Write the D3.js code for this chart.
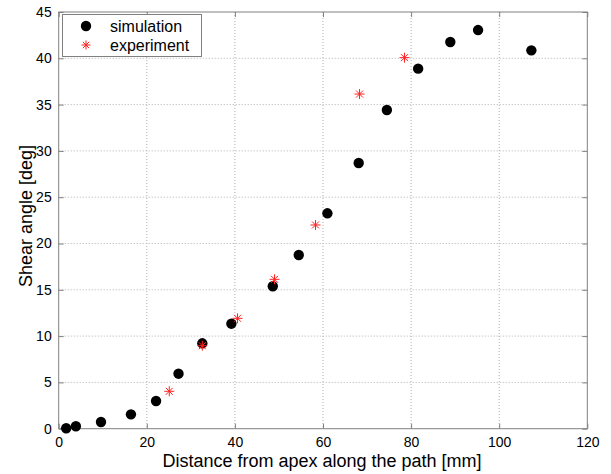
<!DOCTYPE html>
<html><head><meta charset="utf-8">
<script src="https://cdn.jsdelivr.net/npm/d3@7"></script>
<style>body{margin:0;background:#fff}svg{display:block}</style>
</head><body>
<script>
const simX = [1.7, 3.9, 9.6, 16.4, 22.1, 27.2, 32.6, 39.2, 48.6, 54.5, 61.0, 68.1, 74.5, 81.6, 88.9, 95.2, 107.3];
const simY = [0.05, 0.26, 0.72, 1.55, 2.99, 5.94, 9.22, 11.34, 15.38, 18.76, 23.26, 28.69, 34.42, 38.88, 41.76, 43.05, 40.86];
const expX = [25.1, 32.6, 40.6, 49.0, 58.3, 68.3, 78.5];
const expY = [4.04, 8.96, 11.92, 16.13, 22.0, 36.14, 40.07];
const xTicks = [0, 20, 40, 60, 80, 100, 120];
const yTicks = [0, 5, 10, 15, 20, 25, 30, 35, 40, 45];
const seriesNames = ["simulation", "experiment"];

const W = 611, H = 474;
const L = 58.7, R = 587.3, T = 12, B = 428.7;
const svg = d3.select("body").append("svg").attr("width", W).attr("height", H);
const x = d3.scaleLinear().domain([0, 120]).range([L, R]);
const y = d3.scaleLinear().domain([0, 45]).range([B, T]);
const font = "Liberation Sans, Arial, sans-serif";
const axisCol = "#808080";

// grid
const g = svg.append("g");
g.selectAll(".gx").data(xTicks.slice(1, -1)).join("line")
  .attr("x1", d => x(d)).attr("x2", d => x(d)).attr("y1", T).attr("y2", B)
  .attr("stroke", "#b0b0b0").attr("stroke-width", 1).attr("stroke-dasharray", "1,2");
g.selectAll(".gy").data(yTicks.slice(1, -1)).join("line")
  .attr("y1", d => y(d)).attr("y2", d => y(d)).attr("x1", L).attr("x2", R)
  .attr("stroke", "#b0b0b0").attr("stroke-width", 1).attr("stroke-dasharray", "1,2");

// box
svg.append("rect").attr("x", L).attr("y", T).attr("width", R - L).attr("height", B - T)
  .attr("fill", "none").attr("stroke", axisCol).attr("stroke-width", 1);

// axes
const xa = svg.append("g").attr("transform", `translate(0,${B})`)
  .call(d3.axisBottom(x).tickValues(xTicks).tickSizeInner(-5).tickSizeOuter(0).tickPadding(8));
const xt = svg.append("g").attr("transform", `translate(0,${T})`)
  .call(d3.axisTop(x).tickValues(xTicks).tickSizeInner(-5).tickSizeOuter(0).tickFormat(""));
const ya = svg.append("g").attr("transform", `translate(${L},0)`)
  .call(d3.axisLeft(y).tickValues(yTicks).tickSizeInner(-5).tickSizeOuter(0).tickPadding(7));
const yr = svg.append("g").attr("transform", `translate(${R},0)`)
  .call(d3.axisRight(y).tickValues(yTicks).tickSizeInner(-5).tickSizeOuter(0).tickFormat(""));
[xa, xt, ya, yr].forEach(a => {
  a.select(".domain").remove();
  a.selectAll(".tick line").attr("stroke", axisCol);
  a.selectAll("text").attr("font-family", font).attr("font-size", 14).attr("fill", "#000");
});

// axis labels
svg.append("text").attr("x", 322).attr("y", 467).attr("text-anchor", "middle")
  .attr("font-family", font).attr("font-size", 18).text("Distance from apex along the path [mm]");
svg.append("text").attr("transform", `translate(32,216) rotate(-90)`).attr("text-anchor", "middle")
  .attr("font-family", font).attr("font-size", 18).text("Shear angle [deg]");

// star marker
function star(sel, cx, cy, s) {
  const gg = sel.append("g").attr("transform", `translate(${cx},${cy})`).attr("stroke", "#ff2020").attr("stroke-width", 1);
  const d = s * 0.7;
  gg.append("line").attr("x1", -s).attr("x2", s).attr("y1", 0).attr("y2", 0);
  gg.append("line").attr("y1", -s).attr("y2", s).attr("x1", 0).attr("x2", 0);
  gg.append("line").attr("x1", -d).attr("x2", d).attr("y1", -d).attr("y2", d);
  gg.append("line").attr("x1", -d).attr("x2", d).attr("y1", d).attr("y2", -d);
}

// simulation points
svg.append("g").selectAll("circle").data(simX.map((v, i) => [v, simY[i]])).join("circle")
  .attr("cx", d => x(d[0])).attr("cy", d => y(d[1])).attr("r", 5.2).attr("fill", "#000");
// experiment points
const eg = svg.append("g");
expX.forEach((v, i) => star(eg, x(v), y(expY[i]), 5));

// legend
const lg = svg.append("g");
lg.append("rect").attr("x", 62.5).attr("y", 14.5).attr("width", 139).attr("height", 42)
  .attr("fill", "#fff").attr("stroke", axisCol);
lg.append("circle").attr("cx", 86).attr("cy", 26).attr("r", 5.2).attr("fill", "#000");
star(lg, 86, 45, 4.5);
lg.append("text").attr("x", 110).attr("y", 31.5).attr("font-family", font).attr("font-size", 16).text(seriesNames[0]);
lg.append("text").attr("x", 110).attr("y", 50.5).attr("font-family", font).attr("font-size", 16).text(seriesNames[1]);
</script>
</body></html>
